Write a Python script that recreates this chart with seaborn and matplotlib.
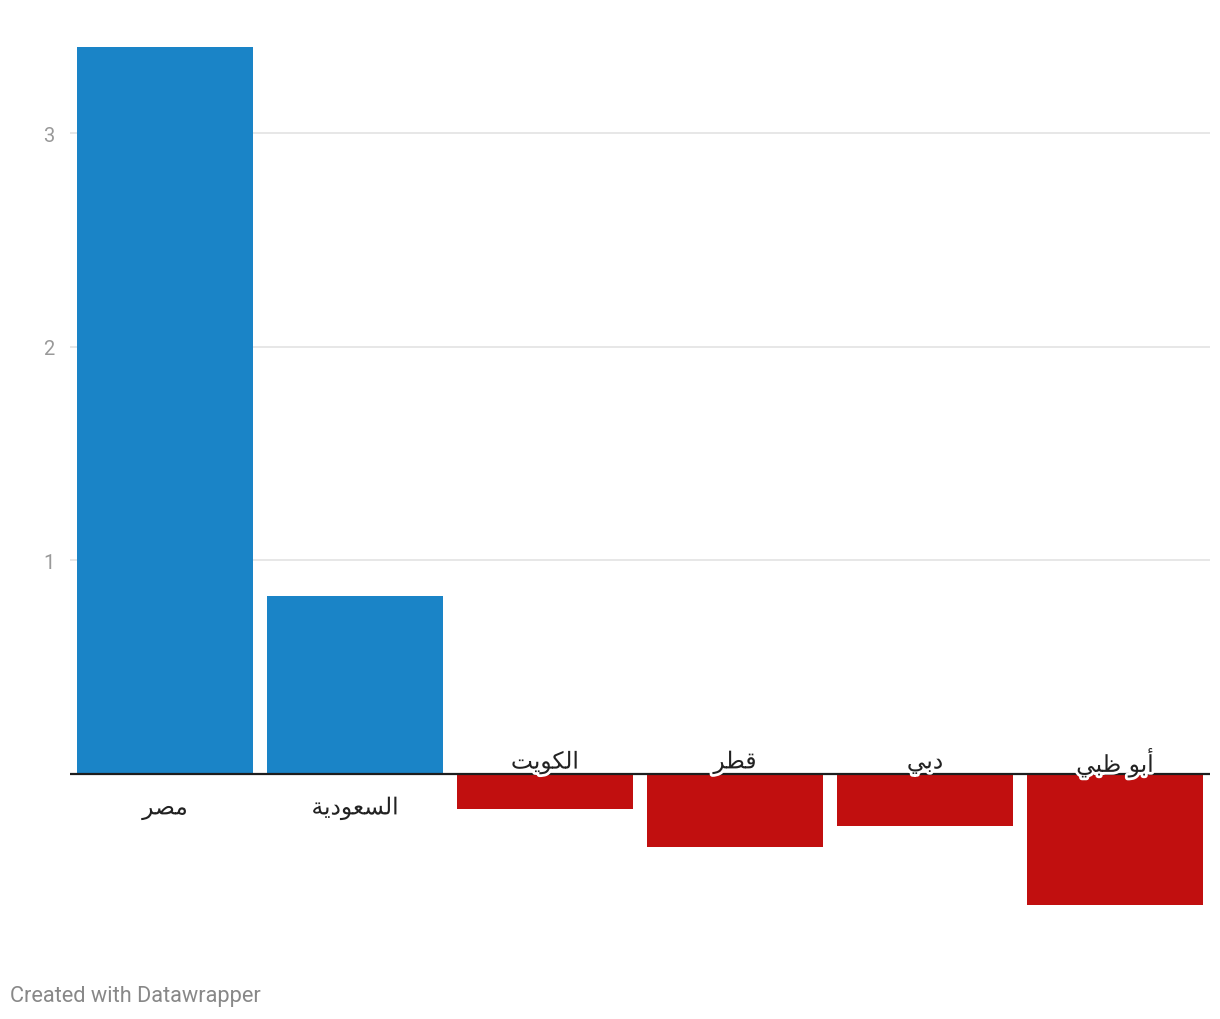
import matplotlib
matplotlib.use("Agg")
import matplotlib.pyplot as plt
import matplotlib.patheffects as pe
import seaborn as sns
import pandas as pd

# Values
mudun = ["مصر", "السعودية", "الكويت", "قطر", "دبي", "أبو ظبي"]
qiyam = [3.405, 0.834, -0.164, -0.342, -0.244, -0.614]
y_ticks = [1, 2, 3]

# simple Arabic shaping (presentation forms) since matplotlib has no shaping
FORMS = {
    'ا': ('\uFE8D', '\uFE8E', None, None),
    'أ': ('\uFE83', '\uFE84', None, None),
    'ب': ('\uFE8F', '\uFE90', '\uFE91', '\uFE92'),
    'ة': ('\uFE93', '\uFE94', None, None),
    'ت': ('\uFE95', '\uFE96', '\uFE97', '\uFE98'),
    'د': ('\uFEA9', '\uFEAA', None, None),
    'ر': ('\uFEAD', '\uFEAE', None, None),
    'س': ('\uFEB1', '\uFEB2', '\uFEB3', '\uFEB4'),
    'ص': ('\uFEB9', '\uFEBA', '\uFEBB', '\uFEBC'),
    'ط': ('\uFEC1', '\uFEC2', '\uFEC3', '\uFEC4'),
    'ظ': ('\uFEC5', '\uFEC6', '\uFEC7', '\uFEC8'),
    'ع': ('\uFEC9', '\uFECA', '\uFECB', '\uFECC'),
    'ق': ('\uFED5', '\uFED6', '\uFED7', '\uFED8'),
    'ك': ('\uFED9', '\uFEDA', '\uFEDB', '\uFEDC'),
    'ل': ('\uFEDD', '\uFEDE', '\uFEDF', '\uFEE0'),
    'م': ('\uFEE1', '\uFEE2', '\uFEE3', '\uFEE4'),
    'و': ('\uFEED', '\uFEEE', None, None),
    'ي': ('\uFEF1', '\uFEF2', '\uFEF3', '\uFEF4'),
}


def shape(word):
    out = []
    for i, ch in enumerate(word):
        f = FORMS.get(ch)
        if f is None:
            out.append(ch)
            continue
        prev = word[i - 1] if i > 0 else ''
        nxt = word[i + 1] if i + 1 < len(word) else ''
        join_prev = prev in FORMS and FORMS[prev][2] is not None
        join_next = nxt in FORMS and f[2] is not None
        if join_prev and join_next:
            out.append(f[3])
        elif join_prev:
            out.append(f[1])
        elif join_next:
            out.append(f[2])
        else:
            out.append(f[0])
    return ''.join(reversed(out))


df = pd.DataFrame({"madina": mudun, "qima": qiyam})
df["ishara"] = ["mujab" if v >= 0 else "salib" for v in df["qima"]]

sns.set_theme(style="white")
plt.rcParams['font.family'] = ['Roboto', 'DejaVu Sans']

fig = plt.figure(figsize=(12.2, 10.2), dpi=100)
ax = fig.add_axes([70 / 1220, 1 - 935 / 1020, 1140 / 1220, 887 / 1020])

sns.barplot(data=df, x="madina", y="qima", hue="ishara", dodge=False,
            palette={"mujab": "#1a84c7", "salib": "#c10f0f"},
            width=0.93, saturation=1, legend=False, ax=ax, zorder=3,
            linewidth=0, edgecolor='none')

ax.set_ylim(-0.75, 3.405)
ax.set_xlim(-0.5, 5.5)
ax.set_yticks(y_ticks)
ax.set_yticklabels([str(t) for t in y_ticks])
ax.tick_params(axis='y', length=0, pad=11, labelsize=14.5, labelcolor='#999999')
ax.set_xticks([])
ax.set_xlabel("")
ax.set_ylabel("")
ax.grid(axis='y', color='#e3e3e3', linewidth=1.2, zorder=0)
for s in ax.spines.values():
    s.set_visible(False)
ax.axhline(0, color='#1d1d1d', linewidth=1.6, zorder=4)

# category labels: under the zero line for positive bars, above it for negative ones
for i, (name, v) in enumerate(zip(mudun, qiyam)):
    off = -35 if v >= 0 else 11
    ax.annotate(shape(name), xy=(i, 0), xytext=(0, off), textcoords='offset pixels',
                ha='center', va='center', fontsize=16.8, color='#222222',
                family=['DejaVu Sans'], zorder=5,
                path_effects=[pe.withStroke(linewidth=4, foreground='white')])

fig.text(10 / 1220, 1 - 997 / 1020, "Created with Datawrapper",
         fontsize=15.7, color='#888888', va='center', ha='left')

plt.savefig('out.png', dpi=100)
